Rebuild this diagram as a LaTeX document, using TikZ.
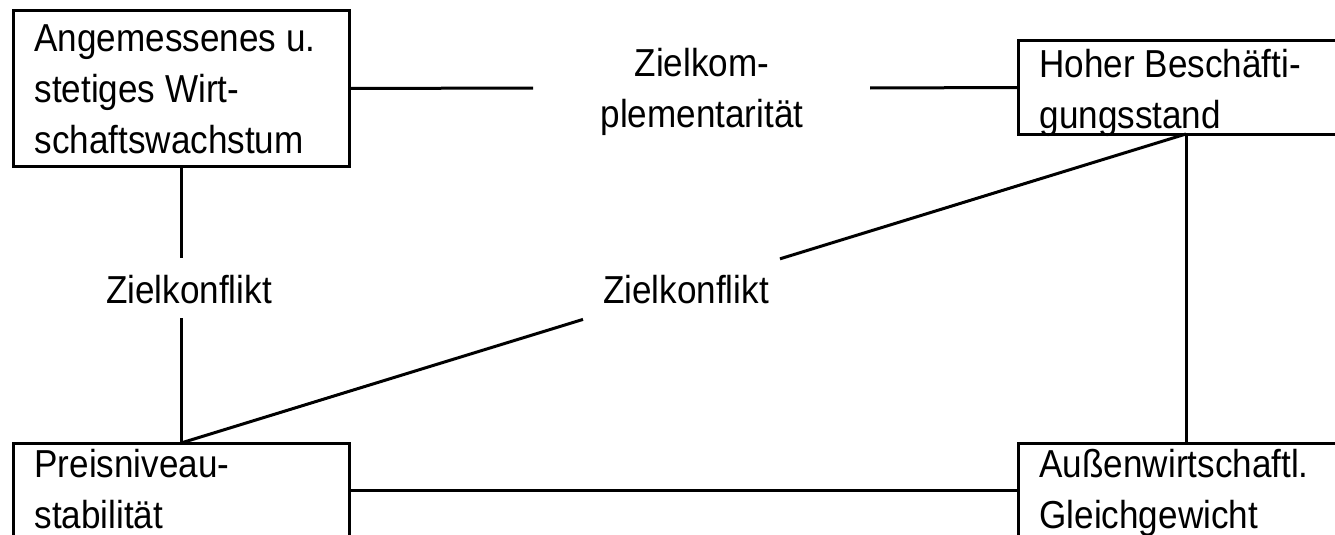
\documentclass[tikz,border=0pt]{standalone}
\usepackage{fontspec}
\setmainfont{Liberation Sans}
\newfontfamily\goalfont[FakeStretch=0.9]{Liberation Sans}
\usetikzlibrary{calc}
\begin{document}
\begin{tikzpicture}[x=1pt,y=-1pt,line width=3pt,
  goalbox/.style={draw,rectangle,inner sep=0pt,outer sep=0pt,
    minimum width=336pt,anchor=north west},
  boxtext/.style={font=\goalfont\fontsize{39}{51}\selectfont,
    inner sep=0pt,align=left,anchor=base west},
  relation/.style={font=\goalfont\fontsize{39}{51}\selectfont,
    inner sep=0pt,align=center,anchor=base}]
\useasboundingbox (0,0) rectangle (1335,535);
\clip (0,0) rectangle (1335,535);

% the four economic policy goals
\node[goalbox,minimum height=155pt] (wachstum) at (13,11) {};
\node[goalbox,minimum height=93pt] (beschaeft) at (1018,41) {};
\node[goalbox,minimum height=94pt] (preis) at (13,443) {};
\node[goalbox,minimum height=94pt] (aussen) at (1018,443) {};

% texts are placed by the baseline of their last line
\node[boxtext] (twachstum) at (33,153) {Angemessenes u.\\stetiges Wirt-\\schaftswachstum};
\node[boxtext] (tbeschaeft) at (1038,128) {Hoher Besch\"afti-\\gungsstand};
\node[boxtext] (tpreis) at (33,528) {Preisniveau-\\stabilit\"at};
\node[boxtext] (taussen) at (1038,528) {Au\ss enwirtschaftl.\\Gleichgewicht};

% relations between the goals
\node[relation] (komp) at (702,127) {Zielkom-\\plementarit\"at};
\node[relation] (konfl1) at (189,303) {Zielkonflikt};
\node[relation] (konfl2) at (686,303) {Zielkonflikt};

\coordinate (kompL) at (533,88);
\coordinate (kompR) at (870,88);
\coordinate (konfl1T) at (181,258);
\coordinate (konfl1B) at (181,318);

\draw (wachstum.east) -- (kompL);
\draw (kompR) -- (beschaeft.west);
\draw (wachstum.south) -- (konfl1T);
\draw (konfl1B) -- (preis.north);
\draw (preis.north) -- ($(preis.north)!0.4!(beschaeft.south)$);
\draw ($(preis.north)!0.596!(beschaeft.south)$) -- (beschaeft.south);
\draw (beschaeft.south) -- (aussen.north);
\draw (preis.east) -- (aussen.west);
\end{tikzpicture}
\end{document}
